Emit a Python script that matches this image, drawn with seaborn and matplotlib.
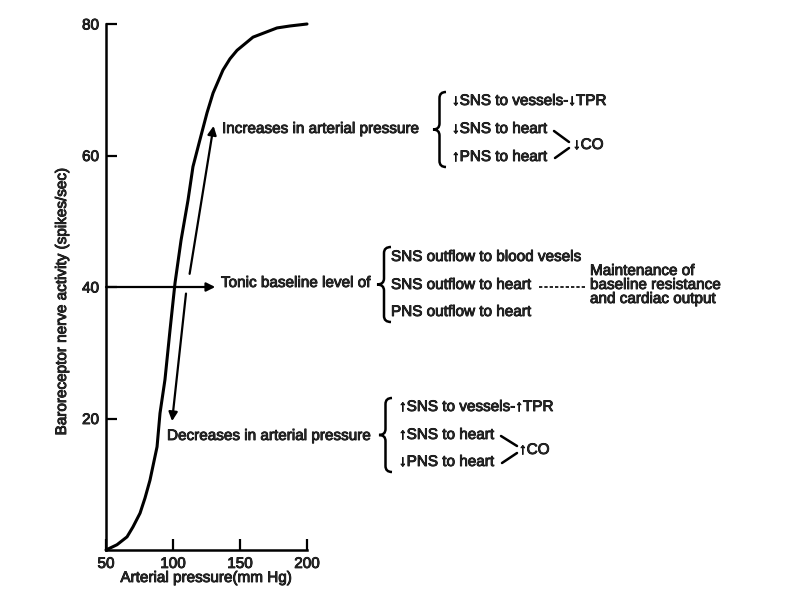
import matplotlib
matplotlib.use("Agg")
import matplotlib.pyplot as plt
import matplotlib.patheffects as pe
import seaborn as sns
import pandas as pd
from matplotlib.path import Path
from matplotlib.patches import PathPatch
from matplotlib.lines import Line2D

# ---------------- data ----------------
pressure = [50, 58.2, 65.7, 70.1, 75.4, 79.1, 82.8, 88.1, 90.3, 94.0, 97.8, 101.5, 106.0,
            111.2, 114.9, 120.1, 125.4, 129.9, 137.3, 142.5, 147.8, 159.7, 177.6, 187.3, 200]
activity = [0, 0.8, 2.0, 3.5, 5.6, 7.9, 10.6, 15.7, 20.8, 25.9, 33.5, 40.6, 47.1,
            53.2, 58.3, 62.4, 66.5, 69.5, 73.0, 74.7, 76.0, 78.0, 79.4, 79.7, 80.0]
x_ticks = [50, 100, 150, 200]
y_ticks = [20, 40, 60, 80]
x_label = "Arterial pressure(mm Hg)"
y_label = "Baroreceptor nerve activity (spikes/sec)"

inc_title = "Increases in arterial pressure"
inc_items = ["\u2193SNS to vessels-\u2193TPR", "\u2193SNS to heart", "\u2191PNS to heart"]
inc_co = "\u2193CO"
tonic_title = "Tonic baseline level of"
tonic_items = ["SNS outflow to blood vesels", "SNS outflow to heart", "PNS outflow to heart"]
tonic_result = ["Maintenance of", "baseline resistance", "and cardiac output"]
dec_title = "Decreases in arterial pressure"
dec_items = ["\u2191SNS to vessels-\u2191TPR", "\u2191SNS to heart", "\u2193PNS to heart"]
dec_co = "\u2191CO"

# ---------------- style ----------------
sns.set_style("ticks")
plt.rcParams["font.family"] = ["Liberation Sans", "DejaVu Sans"]
FS = 11
W, H = 800, 600
thick = [pe.withStroke(linewidth=0.6, foreground="black")]

fig = plt.figure(figsize=(8, 6), dpi=100)
fig.patch.set_facecolor("white")
ax = fig.add_axes([106 / W, 50 / H, 201 / W, 526 / H])
ax.set_facecolor("white")

df = pd.DataFrame({"pressure": pressure, "activity": activity})
sns.lineplot(data=df, x="pressure", y="activity", ax=ax, color="black",
             linewidth=2.2, sort=False, estimator=None, clip_on=False)
ax.lines[0].set_solid_joinstyle("round")

ax.set_xlim(50, 200)
ax.set_ylim(0, 80)
ax.set_xticks(x_ticks)
ax.set_yticks(y_ticks)
ax.set_xticklabels([str(v) for v in x_ticks], fontsize=FS, path_effects=thick)
ax.set_yticklabels([str(v) for v in y_ticks], fontsize=FS, path_effects=thick)
ax.tick_params(direction="in", length=8, width=1.6, color="black", pad=5)
ax.set_xlabel("")
ax.set_ylabel("")
sns.despine(ax=ax)
for s in ["left", "bottom"]:
    ax.spines[s].set_linewidth(1.8)
    ax.spines[s].set_color("black")

fig.text(62 / W, 1 - 302 / H, y_label, rotation=90, ha="center", va="center",
         fontsize=FS, path_effects=thick)
fig.text(206 / W, 1 - 578 / H, x_label, ha="center", va="center", fontsize=FS,
         path_effects=thick)

# ---------------- arrows on axes ----------------
arrow_kw = dict(arrowstyle="-|>", color="black", lw=1.6, mutation_scale=13,
                shrinkA=0, shrinkB=0)
ax.annotate("", xy=(131.5, 40), xytext=(50, 40), arrowprops=arrow_kw, annotation_clip=False)
ax.annotate("", xy=(130.3, 64.5), xytext=(112.4, 42.0), arrowprops=arrow_kw, annotation_clip=False)
ax.annotate("", xy=(99.3, 19.6), xytext=(109.7, 39.0), arrowprops=arrow_kw, annotation_clip=False)


# ---------------- helpers in figure pixels ----------------
def T(x, y, s, ha="left", **kw):
    fig.text(x / W, 1 - y / H, s, ha=ha, va="center", fontsize=FS,
             path_effects=thick, **kw)


def P(x, y):
    return (x / W, 1 - y / H)


def brace(x_tip, x_right, ytop, ybot):
    xm = (x_tip + x_right) / 2
    ym = (ytop + ybot) / 2
    r = 6
    verts = [P(x_right, ytop), P(xm, ytop), P(xm, ytop + r),
             P(xm, ym - r),
             P(xm, ym), P(x_tip, ym),
             P(xm, ym), P(xm, ym + r),
             P(xm, ybot - r),
             P(xm, ybot), P(x_right, ybot)]
    codes = [Path.MOVETO, Path.CURVE3, Path.CURVE3,
             Path.LINETO,
             Path.CURVE3, Path.CURVE3,
             Path.CURVE3, Path.CURVE3,
             Path.LINETO,
             Path.CURVE3, Path.CURVE3]
    fig.patches.append(PathPatch(Path(verts, codes), transform=fig.transFigure,
                                 fill=False, lw=1.8, edgecolor="black"))


def seg(x0, y0, x1, y1, lw=1.8, **kw):
    fig.lines.append(Line2D([x0 / W, x1 / W], [1 - y0 / H, 1 - y1 / H],
                            transform=fig.transFigure, color="black", lw=lw, **kw))


# ---------------- increases block ----------------
T(222, 129, inc_title)
brace(433, 446, 92, 167)
for txt, y in zip(inc_items, [101, 129, 157]):
    T(452, y, txt)
seg(554, 131, 569, 142)
seg(555, 158, 569, 148)
T(573, 145, inc_co)

# ---------------- tonic block ----------------
T(221, 283, tonic_title)
brace(377, 391, 247, 322)
for txt, y in zip(tonic_items, [257, 285, 312]):
    T(391, y, txt)
seg(539, 287, 586, 287, lw=1.2, linestyle=(0, (2.0, 1.2)))
for txt, y in zip(tonic_result, [271, 285, 299]):
    T(590, y, txt)

# ---------------- decreases block ----------------
T(167, 436, dec_title)
brace(379, 392, 398, 472)
for txt, y in zip(dec_items, [407, 435, 462]):
    T(399, y, txt)
seg(501, 436, 517, 446)
seg(502, 463, 517, 453)
T(519, 450, dec_co)

fig.savefig("out.png", dpi=100, facecolor="white")
